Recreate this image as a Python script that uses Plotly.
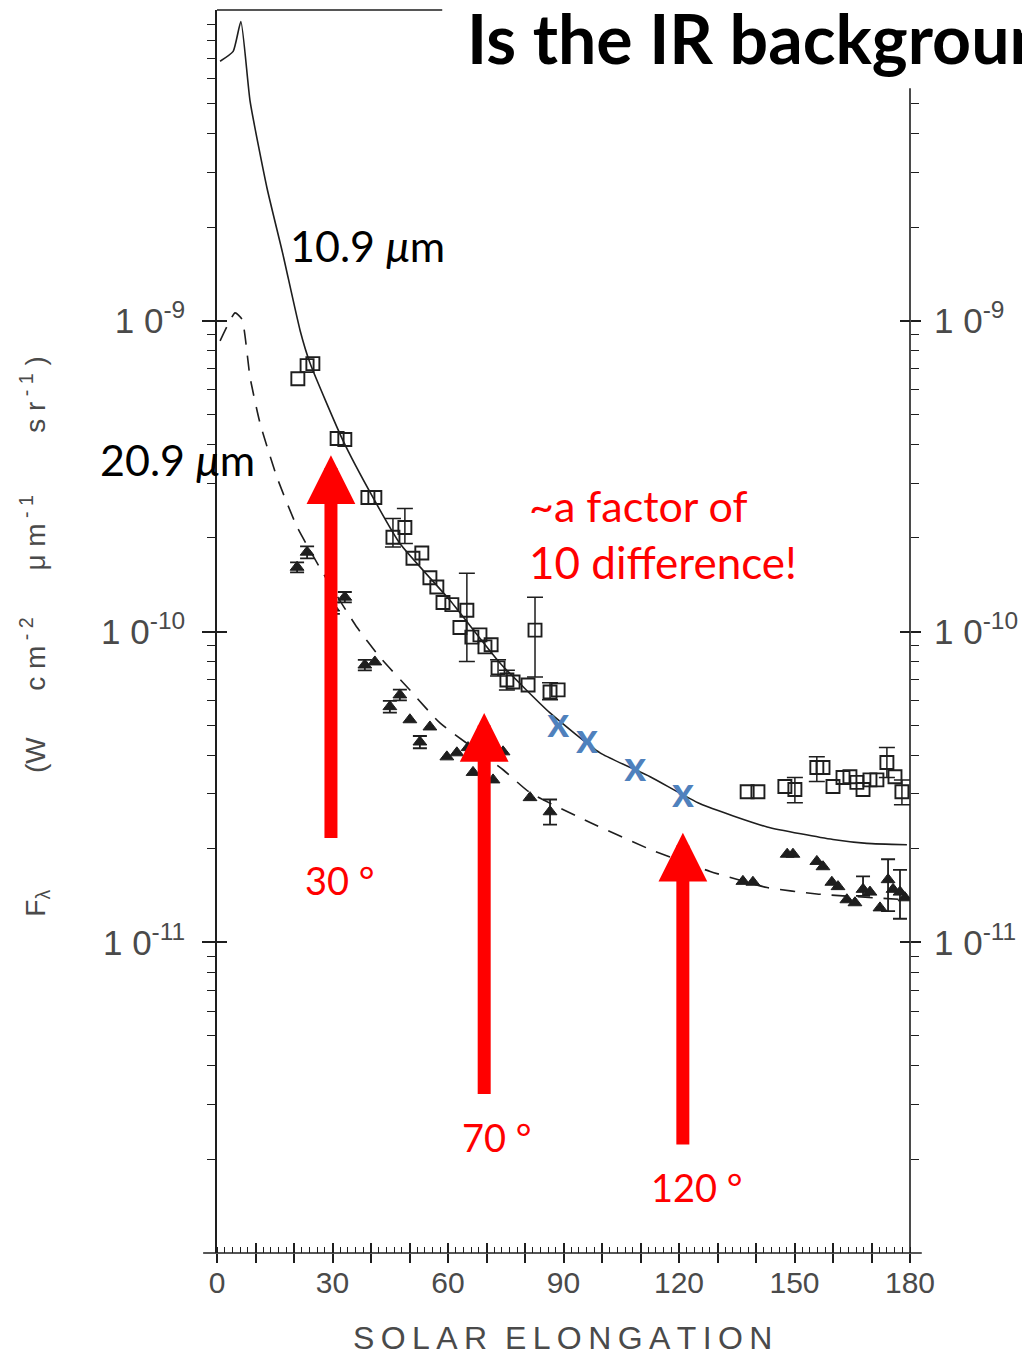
import numpy as np
import plotly.graph_objects as go

# ---------------- data ----------------
# model curve, 10.9 um (solid)
model_109_x = [0.8, 4.2, 6.2, 8.6, 13.0, 17.1, 21.6, 24.2, 32.7, 40.5, 47.5, 60.5, 73.5, 86.5,
               99.5, 112.5, 125.5, 142.9, 160.0, 168.8, 179.2]
model_109_y = [6.84e-9, 7.36e-9, 9.18e-9, 5.08e-9, 2.67e-9, 1.64e-9, 9.29e-10, 7.28e-10, 4.12e-10,
               2.70e-10, 1.92e-10, 1.26e-10, 7.92e-11, 5.47e-11, 4.07e-11, 3.41e-11, 2.79e-11,
               2.35e-11, 2.14e-11, 2.08e-11, 2.06e-11]

# model curve, 20.9 um (dashed)
model_209_x = [0.8, 4.7, 6.5, 8.6, 11.2, 15.6, 20.8, 28.1, 36.4, 42.3, 50.1, 57.9, 74.3, 81.3,
               96.9, 112.5, 128.1, 142.9, 155.8, 179.2]
model_209_y = [8.62e-10, 1.06e-9, 1.01e-9, 6.56e-10, 4.67e-10, 3.13e-10, 2.17e-10, 1.50e-10,
               1.03e-10, 8.27e-11, 6.48e-11, 5.08e-11, 3.59e-11, 3.03e-11, 2.43e-11, 1.99e-11,
               1.69e-11, 1.50e-11, 1.43e-11, 1.37e-11]

# observations 10.9 um (squares)
sq_x = [21.0, 23.4, 24.9, 31.2, 33.2, 39.2, 41.0, 45.7, 48.8, 50.9, 53.2, 55.3, 57.1, 58.7, 61.0,
        63.1, 64.9, 66.2, 68.3, 69.6, 71.2, 73.0, 75.3, 76.9, 80.8, 82.6, 86.5, 88.6, 137.7,
        140.5, 147.5, 150.1, 155.8, 157.4, 160.0, 162.6, 164.4, 166.2, 167.8, 169.6, 171.4,
        174.0, 176.1, 177.9]
sq_y = [6.51e-10, 7.17e-10, 7.28e-10, 4.18e-10, 4.15e-10, 2.70e-10, 2.70e-10, 2.01e-10, 2.16e-10,
        1.72e-10, 1.79e-10, 1.49e-10, 1.39e-10, 1.24e-10, 1.22e-10, 1.03e-10, 1.17e-10, 9.59e-11,
        9.75e-11, 8.92e-11, 9.06e-11, 7.64e-11, 6.98e-11, 6.88e-11, 6.73e-11, 1.01e-10, 6.39e-11,
        6.49e-11, 3.05e-11, 3.05e-11, 3.17e-11, 3.10e-11, 3.65e-11, 3.65e-11, 3.17e-11, 3.39e-11,
        3.41e-11, 3.27e-11, 3.10e-11, 3.33e-11, 3.33e-11, 3.79e-11, 3.41e-11, 3.05e-11]
sq_err_plus = [0, 0, 0, 0, 0, 0, 0, 3.0e-11, 3.3e-11, 0, 0, 0, 0, 0, 0, 0, 3.7e-11, 0, 0, 0, 0,
               4.7e-12, 5.3e-12, 0, 0, 2.8e-11, 4.5e-12, 0, 0, 0, 0, 2.9e-12, 3.0e-12, 0, 0, 0,
               0, 0, 0, 0, 0, 4.4e-12, 0, 2.8e-12]
sq_err_minus = [0, 0, 0, 0, 0, 0, 0, 1.4e-11, 2.4e-11, 0, 0, 0, 0, 0, 0, 0, 3.7e-11, 0, 0, 0, 0,
                4.5e-12, 5.0e-12, 0, 0, 2.96e-11, 3.6e-12, 0, 0, 0, 0, 2.9e-12, 3.6e-12, 0, 0, 0,
                0, 0, 0, 0, 0, 4.0e-12, 0, 2.8e-12]

# observations 20.9 um (triangles)
tr_x = [23.4, 20.8, 33.2, 30.1, 38.4, 41.0, 47.5, 44.9, 50.1, 55.3, 52.7, 59.7, 62.3, 65.2, 66.5,
        71.7, 74.3, 81.3, 86.5, 136.6, 139.2, 148.1, 149.6, 155.8, 157.4, 159.7, 161.3, 163.6,
        165.7, 167.8, 169.6, 172.2, 174.3, 175.6, 177.4, 178.7]
tr_y = [1.80e-10, 1.61e-10, 1.29e-10, 1.19e-10, 7.80e-11, 7.98e-11, 6.25e-11, 5.73e-11, 5.20e-11,
        4.93e-11, 4.41e-11, 3.95e-11, 4.07e-11, 4.23e-11, 3.52e-11, 3.33e-11, 4.10e-11, 2.92e-11,
        2.63e-11, 1.57e-11, 1.56e-11, 1.92e-11, 1.92e-11, 1.82e-11, 1.75e-11, 1.56e-11, 1.51e-11,
        1.37e-11, 1.34e-11, 1.48e-11, 1.45e-11, 1.29e-11, 1.59e-11, 1.48e-11, 1.45e-11, 1.39e-11]
tr_err_plus = [8e-12, 6e-12, 5e-12, 5e-12, 3e-12, 0, 2.5e-12, 2.5e-12, 0, 0, 2e-12, 0, 0, 0, 0,
               0, 0, 0, 2.5e-12, 0, 0, 0, 0, 0, 0, 0, 0, 0, 0, 1.5e-12, 0, 0, 2.6e-12, 0,
               2.6e-12, 0]
tr_err_minus = [8e-12, 6e-12, 5e-12, 5e-12, 3e-12, 0, 2.5e-12, 2.5e-12, 0, 0, 2e-12, 0, 0, 0, 0,
                0, 0, 0, 2.4e-12, 0, 0, 0, 0, 0, 0, 0, 0, 0, 0, 0.7e-12, 0, 0, 3.3e-12, 0,
                2.6e-12, 0]

# blue "x" marks on the 10.9 um model
xmark_x = [88.6, 96.1, 108.6, 121.0]
xmark_y = [4.93e-11, 4.39e-11, 3.56e-11, 2.94e-11]

# red arrows (elongation, tip value, tail value) and their labels
arrow_x = [29.6, 69.4, 121.0]
arrow_tip = [3.69e-10, 5.47e-11, 2.25e-11]
arrow_tail = [2.14e-11, 3.21e-12, 2.21e-12]
arrow_label = ["30 °", "70 °", "120 °"]
arrow_label_x = [31.9, 72.7, 124.7]
arrow_label_y = [1.59e-11, 2.37e-12, 1.63e-12]

x_tick_vals = list(range(0, 181, 10))
x_tick_text = [str(v) if v % 30 == 0 else "" for v in x_tick_vals]
NB = "\u00a0"
y_tick_vals = [1e-11, 1e-10, 1e-9]
y_tick_text = ["1" + NB + "0<sup>-11</sup>", "1" + NB + "0<sup>-10</sup>", "1" + NB + "0<sup>-9</sup>"]

# ---------------- figure ----------------
INK = "#1e1e1e"
GREY = "#4a4a4a"
SCAN_FONT = "Liberation Sans"
RED = "#ff0000"

fig = go.Figure()

fig.add_trace(go.Scatter(x=model_109_x, y=model_109_y, mode="lines",
                         line=dict(color=INK, width=1.6, shape="spline", smoothing=0.5),
                         showlegend=False, hoverinfo="skip"))
fig.add_trace(go.Scatter(x=model_209_x, y=model_209_y, mode="lines",
                         line=dict(color=INK, width=1.6, dash="15px,11px", shape="spline", smoothing=0.5),
                         showlegend=False, hoverinfo="skip"))

# error bars (only where present)
sq_e = [i for i in range(len(sq_x)) if sq_err_plus[i] > 0 or sq_err_minus[i] > 0]
fig.add_trace(go.Scatter(x=[sq_x[i] for i in sq_e], y=[sq_y[i] for i in sq_e], mode="markers",
                         marker=dict(size=1, opacity=0),
                         error_y=dict(type="data", symmetric=False,
                                      array=[sq_err_plus[i] for i in sq_e],
                                      arrayminus=[sq_err_minus[i] for i in sq_e],
                                      color=INK, thickness=1.5, width=8),
                         showlegend=False, hoverinfo="skip"))
tr_e = [i for i in range(len(tr_x)) if tr_err_plus[i] > 0 or tr_err_minus[i] > 0]
fig.add_trace(go.Scatter(x=[tr_x[i] for i in tr_e], y=[tr_y[i] for i in tr_e], mode="markers",
                         marker=dict(size=1, opacity=0),
                         error_y=dict(type="data", symmetric=False,
                                      array=[tr_err_plus[i] for i in tr_e],
                                      arrayminus=[tr_err_minus[i] for i in tr_e],
                                      color=INK, thickness=1.8, width=7),
                         showlegend=False, hoverinfo="skip"))

fig.add_trace(go.Scatter(x=sq_x, y=sq_y, mode="markers",
                         marker=dict(symbol="square-open", size=13, color=INK, line=dict(width=1.9, color=INK)),
                         showlegend=False, hoverinfo="skip"))
fig.add_trace(go.Scatter(x=tr_x, y=tr_y, mode="markers",
                         marker=dict(symbol="triangle-up", size=12, color=INK, line=dict(width=1, color=INK)),
                         showlegend=False, hoverinfo="skip"))

fig.add_trace(go.Scatter(x=xmark_x, y=xmark_y, mode="text", text=["x"] * len(xmark_x),
                         textposition="middle center",
                         textfont=dict(family="Lato", size=42, color="#4f81bd", weight="bold"),
                         showlegend=False, hoverinfo="skip"))

# dummy traces so overlay axes get drawn
fig.add_trace(go.Scatter(x=[None], y=[None], xaxis="x2", yaxis="y", showlegend=False, hoverinfo="skip"))
fig.add_trace(go.Scatter(x=[None], y=[None], xaxis="x", yaxis="y2", showlegend=False, hoverinfo="skip"))
fig.add_trace(go.Scatter(x=[None], y=[None], xaxis="x", yaxis="y3", showlegend=False, hoverinfo="skip"))
fig.add_trace(go.Scatter(x=[None], y=[None], xaxis="x", yaxis="y4", showlegend=False, hoverinfo="skip"))

minor_all = [k * 10.0 ** e for e in (-12, -11, -10, -9) for k in range(2, 10)]
minor_right = [v for v in minor_all if v <= 5.5e-9]

tickfont = dict(family=SCAN_FONT, size=35, color=GREY)

fig.update_layout(
    width=1022, height=1358,
    margin=dict(l=217, r=112, t=10, b=105, autoexpand=False),
    paper_bgcolor="white", plot_bgcolor="white",
    showlegend=False,
    xaxis=dict(range=[0, 180], tickmode="array", tickvals=x_tick_vals, ticktext=x_tick_text,
               ticks="outside", ticklen=9, tickwidth=1.5, tickcolor=INK, automargin=False,
               showline=False, showgrid=False, zeroline=False,
               tickfont=dict(family=SCAN_FONT, size=30, color=GREY), ticklabelstandoff=-6,
               minor=dict(tickmode="linear", tick0=0, dtick=2, ticks="inside", ticklen=6,
                          tickwidth=1.2, tickcolor=INK, showgrid=False)),
    xaxis2=dict(range=[0, 180], overlaying="x", anchor="y", side="bottom", automargin=False,
                tickmode="array", tickvals=x_tick_vals, ticks="inside", ticklen=10,
                tickwidth=1.5, tickcolor=INK, showticklabels=False,
                showline=False, showgrid=False, zeroline=False),
    yaxis=dict(type="log", range=[-12, -8], tickmode="array", tickvals=y_tick_vals,
               ticktext=y_tick_text, ticks="outside", ticklen=13, tickwidth=1.5, tickcolor=INK,
               showline=True, linecolor=INK, linewidth=1.6, showgrid=False, zeroline=False,
               tickfont=tickfont, ticklabelstandoff=10, automargin=False,
               minor=dict(tickmode="array", tickvals=minor_all, ticks="outside", ticklen=8,
                          tickwidth=1.2, tickcolor=INK, showgrid=False)),
    yaxis3=dict(type="log", range=[-12, -8], overlaying="y", side="left", anchor="x",
                tickmode="array", tickvals=y_tick_vals, ticks="inside", ticklen=10,
                tickwidth=1.5, tickcolor=INK, showticklabels=False, automargin=False,
                showline=False, showgrid=False, zeroline=False),
    yaxis2=dict(type="log", range=[-12, -8], overlaying="y", side="right", anchor="x",
                tickmode="array", tickvals=y_tick_vals, ticktext=y_tick_text,
                ticks="outside", ticklen=10, tickwidth=1.5, tickcolor=INK,
                showline=False, showgrid=False, zeroline=False, automargin=False,
                tickfont=tickfont, ticklabelstandoff=6,
                minor=dict(tickmode="array", tickvals=minor_right, ticks="outside", ticklen=8,
                           tickwidth=1.2, tickcolor=INK, showgrid=False)),
    yaxis4=dict(type="log", range=[-12, -8], overlaying="y", side="right", anchor="x",
                tickmode="array", tickvals=y_tick_vals, ticks="inside", ticklen=10,
                tickwidth=1.5, tickcolor=INK, showticklabels=False, automargin=False,
                showline=False, showgrid=False, zeroline=False),
)

# axis frame pieces
fig.add_shape(type="line", xref="paper", yref="paper", x0=-0.02, x1=1.017, y0=0, y1=0,
              line=dict(color=INK, width=1.6))
fig.add_shape(type="line", xref="paper", yref="paper", x0=1, x1=1, y0=0, y1=0.937,
              line=dict(color=INK, width=1.6))
fig.add_shape(type="line", xref="paper", yref="paper", x0=0, x1=0.325, y0=1, y1=1,
              line=dict(color=INK, width=1.6))

# axis titles
SUP = lambda s: "<sup>" + NB + "-" + NB + s + "</sup>"
ytitle = ("F<sub>λ</sub>" + NB * 15 + "(W" + NB * 6 + "c" + NB + "m" + SUP("2")
          + NB * 6 + "μ" + NB + "m" + SUP("1") + NB * 8 + "s" + NB + "r"
          + SUP("1") + NB + ")")
fig.add_annotation(x=-0.263, y=0.4956, xref="paper", yref="paper", text=ytitle, textangle=-90,
                   showarrow=False, font=dict(family=SCAN_FONT, size=28, color=GREY),
                   xanchor="center", yanchor="middle")
TS = "\u2009"
xtitle = TS.join(list("SOLAR")) + NB * 2 + TS.join(list("ELONGATION"))
fig.add_annotation(x=0.498, y=-0.0845, xref="paper", yref="paper", text=xtitle,
                   showarrow=False, font=dict(family=SCAN_FONT, size=32, color=GREY),
                   xanchor="center", yanchor="bottom")

# title (cut off at the right edge as in the slide)
fig.add_annotation(x=0.358, y=0.9775, xref="paper", yref="paper", text="<b>Is the IR background</b>",
                   showarrow=False, font=dict(family="Lato", size=68, color="black"),
                   xanchor="left", yanchor="middle")

# curve labels
fig.add_annotation(x=18.4, y=np.log10(1.75e-9), xref="x", yref="y", text="10.9 <i>μ</i>m",
                   showarrow=False, font=dict(family="Lato", size=43, color="black"),
                   xanchor="left", yanchor="middle")
fig.add_annotation(x=-0.1717, y=0.638, xref="paper", yref="paper", text="20.9 <i>μ</i>m",
                   showarrow=False, font=dict(family="Lato", size=43, color="black"),
                   xanchor="left", yanchor="middle")

# red commentary
fig.add_annotation(x=80.5, y=np.log10(2.55e-10), xref="x", yref="y", text="~a factor of",
                   showarrow=False, font=dict(family="Lato", size=43, color=RED),
                   xanchor="left", yanchor="middle")
fig.add_annotation(x=80.5, y=np.log10(1.67e-10), xref="x", yref="y", text="10 difference!",
                   showarrow=False, font=dict(family="Lato", size=44, color=RED),
                   xanchor="left", yanchor="middle")

# red arrows
for xv, tip, tail in zip(arrow_x, arrow_tip, arrow_tail):
    fig.add_annotation(x=xv, y=np.log10(tip), ax=xv, ay=np.log10(tail), xref="x", yref="y",
                       axref="x", ayref="y", text="", showarrow=True, arrowhead=2,
                       arrowsize=0.75, arrowwidth=13, arrowcolor=RED, standoff=0)
for xv, yv, lab in zip(arrow_label_x, arrow_label_y, arrow_label):
    fig.add_annotation(x=xv, y=np.log10(yv), xref="x", yref="y", text=lab, showarrow=False,
                       font=dict(family="Lato", size=38, color=RED), xanchor="center", yanchor="middle")

fig.write_html("out.html")
